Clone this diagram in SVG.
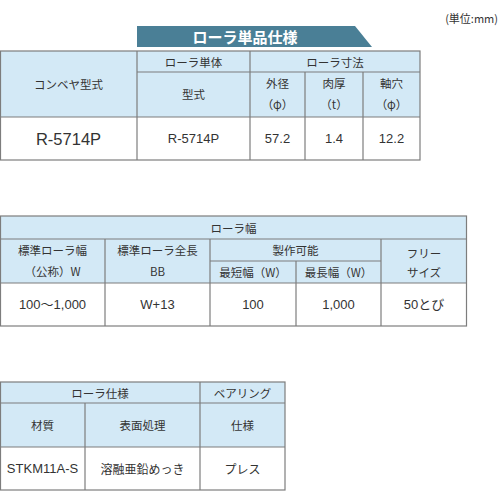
<svg xmlns="http://www.w3.org/2000/svg" width="500" height="500" viewBox="0 0 500 500">
<style>
.bg{fill:#ffffff}
.hd{fill:#d3e9f6}
.ln{stroke:#7d7d7d;stroke-width:1.2;fill:none}
.t{font-family:"Noto Sans CJK JP","Liberation Sans",sans-serif;font-size:11.5px;fill:#333333;text-anchor:middle;dominant-baseline:central}
.d{font-family:"Liberation Sans","Noto Sans CJK JP",sans-serif;font-size:13px;fill:#333333;text-anchor:middle;dominant-baseline:central}
.dj{font-family:"Noto Sans CJK JP",sans-serif;font-size:12px;fill:#333333;text-anchor:middle;dominant-baseline:central}
.ban{font-family:"Noto Sans CJK JP",sans-serif;font-size:15px;font-weight:bold;fill:#ffffff;text-anchor:middle;dominant-baseline:central}
</style>
<rect x="0" y="0" width="500" height="500" class="bg"/>
<text id="unit" x="498" y="18" class="t" style="font-size:11px;text-anchor:end">(単位:mm)</text>

<g id="table1">
  <polygon points="137,26 355,26 372,47 137,47" fill="#4a7f96"/>
  <text x="245" y="36.5" class="ban">ローラ単品仕様</text>
  <rect x="0.5" y="51" width="419.5" height="66" class="hd"/>
  <g class="ln">
    <rect x="0.5" y="51" width="419.5" height="109"/>
    <line x1="0.5" y1="117" x2="420" y2="117"/>
    <line x1="137" y1="51" x2="137" y2="160"/>
    <line x1="250" y1="51" x2="250" y2="160"/>
    <line x1="305" y1="72" x2="305" y2="160"/>
    <line x1="363" y1="72" x2="363" y2="160"/>
    <line x1="137" y1="72" x2="420" y2="72"/>
  </g>
  <text x="68.5" y="84" class="t">コンベヤ型式</text>
  <text x="193.5" y="61.5" class="t">ローラ単体</text>
  <text x="193.5" y="94" class="t">型式</text>
  <text x="335" y="61.5" class="t">ローラ寸法</text>
  <text x="277.5" y="83" class="t">外径</text>
  <text x="277.5" y="104" class="t">（φ）</text>
  <text x="334" y="83" class="t">肉厚</text>
  <text x="334" y="104" class="t">（t）</text>
  <text x="391.5" y="83" class="t">軸穴</text>
  <text x="391.5" y="104" class="t">（φ）</text>
  <text x="68.5" y="138.5" class="d" style="font-size:16.5px">R-5714P</text>
  <text x="193.5" y="138.5" class="d">R-5714P</text>
  <text x="277.5" y="138.5" class="d">57.2</text>
  <text x="334" y="138.5" class="d">1.4</text>
  <text x="391.5" y="138.5" class="d">12.2</text>
</g>

<g id="table2">
  <rect x="0.5" y="216" width="466" height="67" class="hd"/>
  <g class="ln">
    <rect x="0.5" y="216" width="466" height="110"/>
    <line x1="0.5" y1="239" x2="466.5" y2="239"/>
    <line x1="210" y1="261" x2="381" y2="261"/>
    <line x1="0.5" y1="283" x2="466.5" y2="283"/>
    <line x1="105" y1="239" x2="105" y2="326"/>
    <line x1="210" y1="239" x2="210" y2="326"/>
    <line x1="296" y1="261" x2="296" y2="326"/>
    <line x1="381" y1="239" x2="381" y2="326"/>
  </g>
  <text x="233.5" y="227.5" class="t">ローラ幅</text>
  <text x="52.5" y="250" class="t">標準ローラ幅</text>
  <text x="52.5" y="271" class="t">（公称）W</text>
  <text x="157.5" y="250" class="t">標準ローラ全長</text>
  <text x="157.5" y="271" class="t">BB</text>
  <text x="295.5" y="250" class="t">製作可能</text>
  <text x="253" y="271.5" class="t">最短幅（W）</text>
  <text x="338.5" y="271.5" class="t">最長幅（W）</text>
  <text x="424" y="252.5" class="t">フリー</text>
  <text x="424" y="272" class="t">サイズ</text>
  <text x="52.5" y="304.5" class="d">100〜1,000</text>
  <text x="157.5" y="304.5" class="d">W+13</text>
  <text x="253" y="304.5" class="d">100</text>
  <text x="338.5" y="304.5" class="d">1,000</text>
  <text x="424" y="304.5" class="d">50とび</text>
</g>

<g id="table3">
  <rect x="0.5" y="382" width="284.5" height="65" class="hd"/>
  <g class="ln">
    <rect x="0.5" y="382" width="284.5" height="108"/>
    <line x1="0.5" y1="403" x2="285" y2="403"/>
    <line x1="0.5" y1="447" x2="285" y2="447"/>
    <line x1="85" y1="403" x2="85" y2="490"/>
    <line x1="200" y1="382" x2="200" y2="490"/>
  </g>
  <text x="100" y="392.5" class="t">ローラ仕様</text>
  <text x="242.5" y="392.5" class="t">ベアリング</text>
  <text x="42.5" y="425" class="t">材質</text>
  <text x="142.5" y="425" class="t">表面処理</text>
  <text x="242.5" y="425" class="t">仕様</text>
  <text x="42.5" y="468.5" class="d">STKM11A-S</text>
  <text x="142.5" y="468.5" class="dj">溶融亜鉛めっき</text>
  <text x="242.5" y="468.5" class="dj">プレス</text>
</g>
</svg>
